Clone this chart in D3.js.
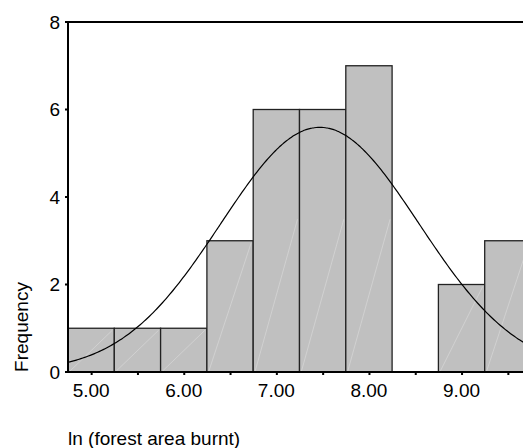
<!DOCTYPE html>
<html>
<head>
<meta charset="utf-8">
<script src="https://cdn.jsdelivr.net/npm/d3@7"></script>
<style>
  html, body { margin: 0; padding: 0; background: #fff; }
  svg { display: block; font-family: "Liberation Sans", Arial, Helvetica, sans-serif; }
</style>
</head>
<body>
<svg id="chart" width="523" height="448"></svg>
<script>
// ---- data ----
const binCenters = [5.0, 5.5, 6.0, 6.5, 7.0, 7.5, 8.0, 8.5, 9.0, 9.5];
const frequencies = [1, 1, 1, 3, 6, 6, 7, 0, 2, 3];
const binWidth = 0.5;
const xTickLabels = [5.0, 6.0, 7.0, 8.0, 9.0];
const xMinorTicks = [5.0, 5.5, 6.0, 6.5, 7.0, 7.5, 8.0, 8.5, 9.0, 9.5];
const yTicks = [0, 2, 4, 6, 8];
const fitMean = 7.47;
const fitSd = 1.07;
const xTitle = "ln (forest area burnt)";
const yTitle = "Frequency";

// ---- layout ----
const svg = d3.select("#chart");
const x = d3.scaleLinear().domain([4.75, 9.75]).range([68, 531]);
const y = d3.scaleLinear().domain([0, 8]).range([372, 22]);
const N = d3.sum(frequencies);
const bins = binCenters.map((c, i) => ({c, f: frequencies[i]})).filter(d => d.f > 0);

// bars
svg.append("g").selectAll("rect")
  .data(bins)
  .join("rect")
  .attr("x", d => x(d.c - binWidth / 2))
  .attr("y", d => y(d.f))
  .attr("width", d => x(d.c + binWidth / 2) - x(d.c - binWidth / 2))
  .attr("height", d => y(0) - y(d.f))
  .attr("fill", "#c0c0c0")
  .attr("stroke", "#222")
  .attr("stroke-width", 1.3);

// faint diagonal artifacts in bars
svg.append("g").selectAll("line")
  .data(bins)
  .join("line")
  .attr("x1", d => x(d.c - binWidth / 2) + 2)
  .attr("y1", y(0) - 1)
  .attr("x2", d => x(d.c + binWidth / 2) - 2)
  .attr("y2", d => Math.max(y(d.f) + 2, y(0) - (x(d.c + binWidth / 2) - x(d.c - binWidth / 2)) * 1.1 * Math.min(d.f, 3)))
  .attr("stroke", "#dcdcdc")
  .attr("stroke-width", 0.6);

// normal curve
const pdf = v => N * binWidth / (fitSd * Math.sqrt(2 * Math.PI)) * Math.exp(-0.5 * ((v - fitMean) / fitSd) ** 2);
const xs = d3.range(4.75, 9.76, 0.02);
svg.append("path")
  .datum(xs)
  .attr("d", d3.line().x(v => x(v)).y(v => y(pdf(v))).curve(d3.curveBasis))
  .attr("fill", "none")
  .attr("stroke", "#000")
  .attr("stroke-width", 1.2);

// axes lines
svg.append("line").attr("x1", 68).attr("x2", 68).attr("y1", y(8)).attr("y2", y(0))
  .attr("stroke", "#000").attr("stroke-width", 2);
svg.append("line").attr("x1", 67).attr("x2", 523).attr("y1", y(0)).attr("y2", y(0))
  .attr("stroke", "#000").attr("stroke-width", 2);
svg.append("line").attr("x1", 67).attr("x2", 523).attr("y1", y(8)).attr("y2", y(8))
  .attr("stroke", "#000").attr("stroke-width", 2);

// y ticks
const yAxis = svg.append("g");
yAxis.selectAll("rect").data(yTicks).join("rect")
  .attr("x", 65).attr("y", d => y(d) - 1).attr("width", 3).attr("height", 2).attr("fill", "#000");
yAxis.selectAll("text").data(yTicks).join("text")
  .attr("x", 60).attr("y", d => y(d)).attr("dy", "0.36em")
  .attr("text-anchor", "end").attr("font-size", 19).attr("fill", "#000")
  .text(d => d);

// x ticks
const xAxis = svg.append("g");
xAxis.selectAll("rect").data(xMinorTicks).join("rect")
  .attr("x", d => x(d) - 0.5).attr("y", y(0) + 1).attr("width", 2).attr("height", 2).attr("fill", "#000");
xAxis.selectAll("text").data(xTickLabels).join("text")
  .attr("x", d => x(d)).attr("y", 397)
  .attr("text-anchor", "middle").attr("font-size", 19).attr("fill", "#000")
  .text(d => d3.format(".2f")(d));

// titles
svg.append("text").attr("x", 68).attr("y", 445)
  .attr("font-size", 19).attr("fill", "#000").text(xTitle);
svg.append("text")
  .attr("transform", `translate(28, ${y(0) - 45}) rotate(-90)`)
  .attr("text-anchor", "middle").attr("font-size", 19).attr("fill", "#000")
  .text(yTitle);
</script>
</body>
</html>
